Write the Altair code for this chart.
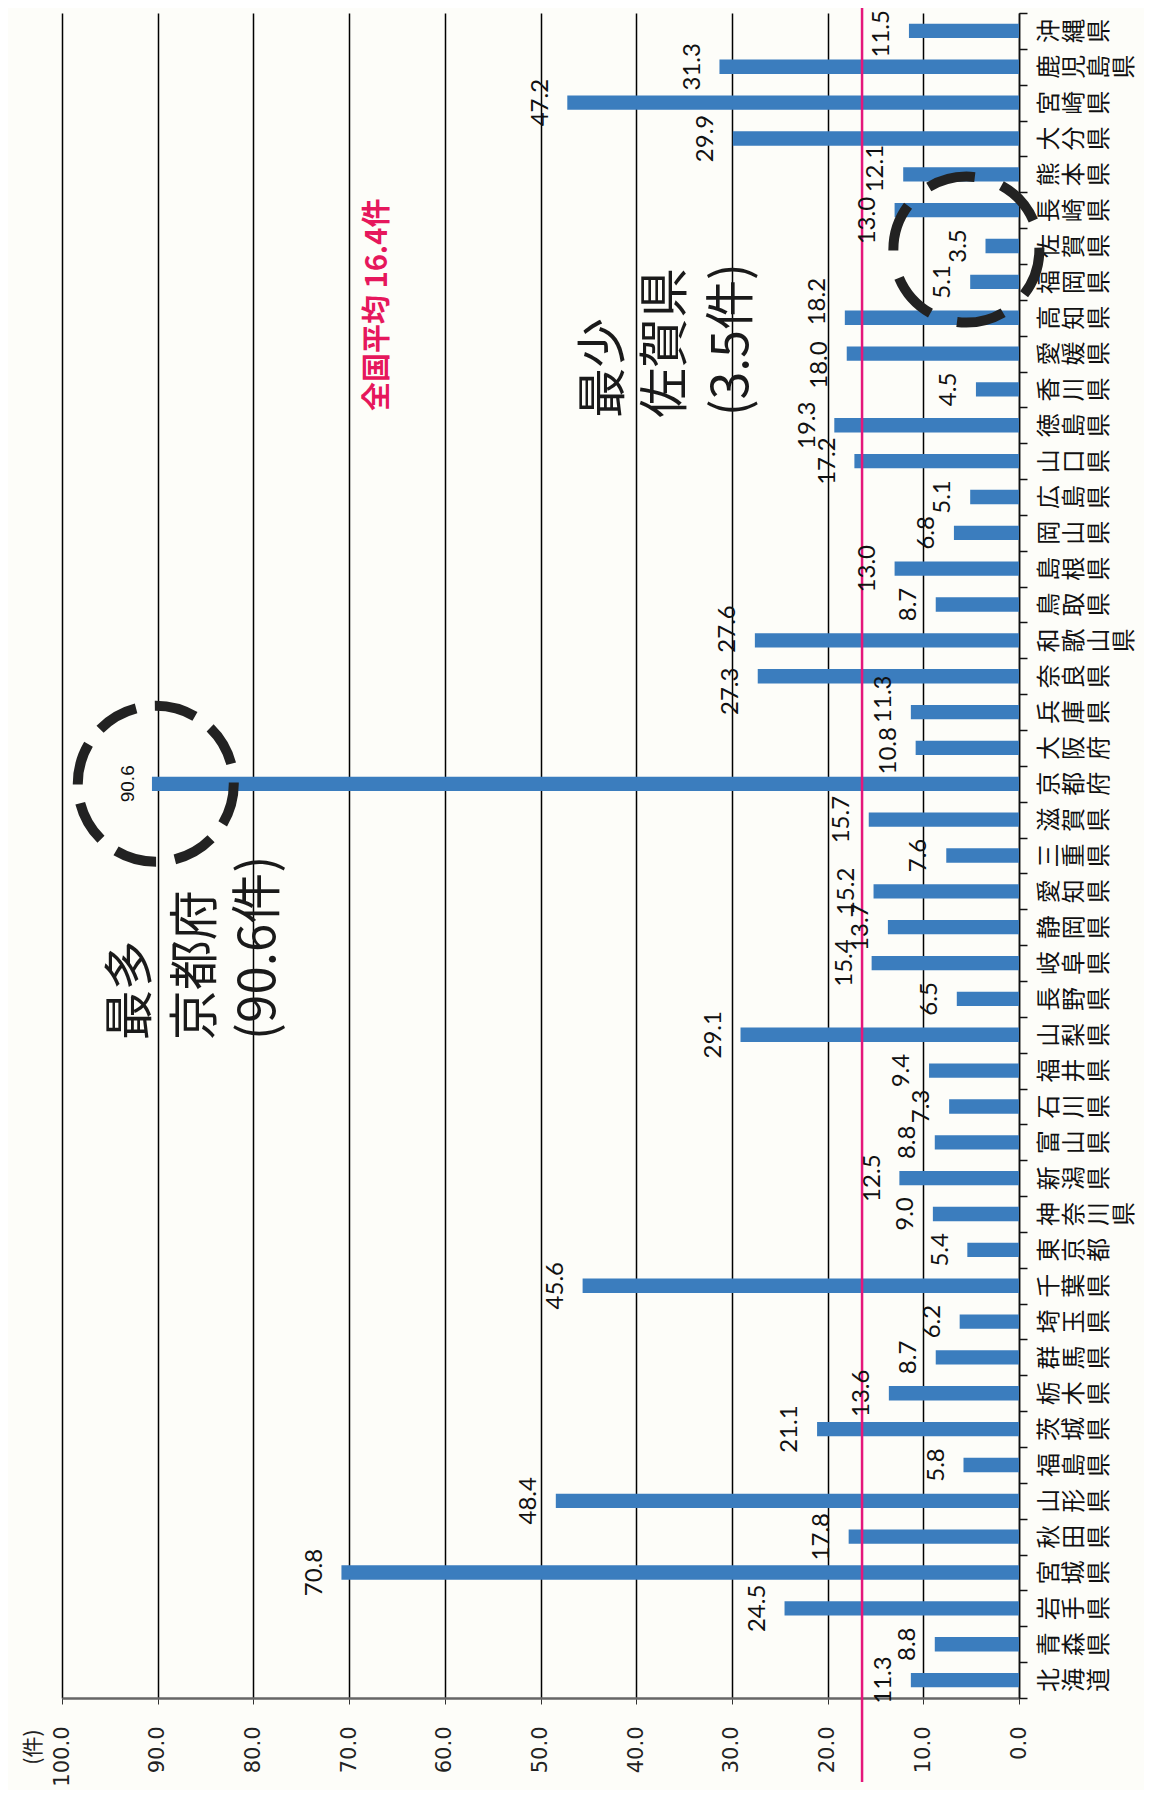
import altair as alt
import pandas as pd

prefectures = ["北海道", "青森県", "岩手県", "宮城県", "秋田県", "山形県", "福島県",
               "茨城県", "栃木県", "群馬県", "埼玉県", "千葉県", "東京都", "神奈川県",
               "新潟県", "富山県", "石川県", "福井県", "山梨県", "長野県", "岐阜県",
               "静岡県", "愛知県", "三重県", "滋賀県", "京都府", "大阪府", "兵庫県",
               "奈良県", "和歌山県", "鳥取県", "島根県", "岡山県", "広島県", "山口県",
               "徳島県", "香川県", "愛媛県", "高知県", "福岡県", "佐賀県", "長崎県",
               "熊本県", "大分県", "宮崎県", "鹿児島県", "沖縄県"]
values = [11.3, 8.8, 24.5, 70.8, 17.8, 48.4, 5.8,
          21.1, 13.6, 8.7, 6.2, 45.6, 5.4, 9.0,
          12.5, 8.8, 7.3, 9.4, 29.1, 6.5, 15.4,
          13.7, 15.2, 7.6, 15.7, 90.6, 10.8, 11.3,
          27.3, 27.6, 8.7, 13.0, 6.8, 5.1, 17.2,
          19.3, 4.5, 18.0, 18.2, 5.1, 3.5, 13.0,
          12.1, 29.9, 47.2, 31.3, 11.5]
national_avg = 16.4
tick_values = list(range(0, 101, 10))

# small shifts of crowded value labels (in category steps, + = upward)
label_nudge = {"大阪府": -0.08, "兵庫県": 0.36, "奈良県": -0.42, "和歌山県": 0.32,
               "愛媛県": -0.32, "高知県": 0.45, "長崎県": -0.29, "熊本県": 0.16,
               "沖縄県": -0.08}

ann_text = ["最多", "京都府", "(90.6件)", "最少", "佐賀県", "(3.5件)"]
ann_x = [92.7, 85.9, 79.3, 43.3, 36.8, 29.9]
ann_y = [17.85, 17.85, 17.85, 35.2, 35.2, 35.25]
ann_size = [50, 50, 51, 50, 50, 50]

avg_text = ["全国平均 16.4件"]
avg_x = [67.0]
avg_y = [35.4]

circle_x = [90.2, 5.5]
circle_y = [25.0, 39.9]

BAR = "#3B7DBE"
PINK = "#E5177B"
RED = "#E6175C"
INK = "#1a1a1a"
W, H = 957, 1685

df = pd.DataFrame({"pref": prefectures, "v": values, "i": list(range(len(values)))})
df["lab"] = df["pref"].apply(lambda s: "\n".join(list(s)))
df["ny"] = df["i"] + df["pref"].map(label_nudge).fillna(0.0)

xs = alt.Scale(domain=[0, 100], reverse=True, nice=False, zero=False)
ys = alt.Scale(domain=[-0.5, len(values) - 0.5], nice=False, zero=False)

xa = alt.Axis(title="(件)", values=tick_values, format=".1f", labelAngle=270,
              labelFont="DejaVu Sans", labelFontSize=21, labelColor="#222",
              labelPadding=22, labelFlush=False, labelOverlap=False,
              tickSize=6, tickColor="#333", domainColor="#666", domainWidth=2.5,
              grid=True, gridColor="#000", gridWidth=1.5,
              titleAngle=270, titleAlign="right", titleBaseline="middle",
              titleX=-29, titleY=31, titleFont="Noto Sans CJK JP",
              titleFontSize=21, titleFontWeight="normal", titleColor="#222")
ya = alt.Axis(orient="right", title="", labels=False,
              values=[k - 0.5 for k in range(len(values) + 1)],
              tickSize=8, tickColor="#111", tickWidth=1.5,
              domainColor="#111", domainWidth=1.5, grid=False)

base = alt.Chart(df)

bars = base.transform_calculate(
    lo="datum.i - 0.2", hi="datum.i + 0.2", z="0"
).mark_rect(color=BAR).encode(
    x=alt.X("z:Q", scale=xs, axis=xa),
    x2="v:Q",
    y=alt.Y("lo:Q", scale=ys, axis=ya),
    y2="hi:Q",
)

rule = alt.Chart(pd.DataFrame({"a": [national_avg]})).mark_rule(
    color=PINK, strokeWidth=2.5
).encode(
    x=alt.X("a:Q", scale=xs, axis=xa),
    y=alt.value(-12),
    y2=alt.value(H + 84),
)

vlab = base.transform_filter("datum.v < 90").transform_calculate(
    lx="datum.v + 2.8"
).mark_text(angle=270, align="center", baseline="middle", font="Lato",
            fontSize=24, color="#111").encode(
    x=alt.X("lx:Q", scale=xs, axis=xa),
    y=alt.Y("ny:Q", scale=ys, axis=ya),
    text=alt.Text("v:Q", format=".1f"),
)

klab = base.transform_filter("datum.v >= 90").transform_calculate(
    lx="datum.v + 2.5"
).mark_text(angle=270, align="center", baseline="middle", font="Liberation Sans",
            fontSize=19, color="#111").encode(
    x=alt.X("lx:Q", scale=xs, axis=xa),
    y=alt.Y("ny:Q", scale=ys, axis=ya),
    text=alt.Text("v:Q", format=".1f"),
)

clab = base.mark_text(angle=270, align="center", baseline="top", lineBreak="\n",
                      font="Noto Sans CJK JP", fontSize=24, lineHeight=25,
                      color="#111").encode(
    x=alt.value(W + 19),
    y=alt.Y("i:Q", scale=ys, axis=ya),
    text="lab:N",
)

ann_df = pd.DataFrame({"t": ann_text, "x": ann_x, "y": ann_y, "s": ann_size})
ann = alt.Chart(ann_df).mark_text(angle=270, align="left", baseline="middle",
                                  font="Noto Sans CJK JP", color=INK).encode(
    x=alt.X("x:Q", scale=xs, axis=xa),
    y=alt.Y("y:Q", scale=ys, axis=ya),
    text="t:N",
    size=alt.Size("s:Q", scale=None, legend=None),
)

avg_df = pd.DataFrame({"t": avg_text, "x": avg_x, "y": avg_y})
avgt = alt.Chart(avg_df).mark_text(angle=270, align="left", baseline="middle",
                                   font="Noto Sans CJK JP", fontSize=29,
                                   fontWeight="bold", color=RED).encode(
    x=alt.X("x:Q", scale=xs, axis=xa),
    y=alt.Y("y:Q", scale=ys, axis=ya),
    text="t:N",
)

c1 = alt.Chart(pd.DataFrame({"x": circle_x[:1], "y": circle_y[:1]})).mark_point(
    shape="circle", filled=False, size=24336, strokeWidth=10,
    strokeDash=[42, 19], color="#222", opacity=1
).encode(x=alt.X("x:Q", scale=xs, axis=xa), y=alt.Y("y:Q", scale=ys, axis=ya))

c2 = alt.Chart(pd.DataFrame({"x": circle_x[1:], "y": circle_y[1:]})).mark_point(
    shape="circle", filled=False, size=21316, strokeWidth=10,
    strokeDash=[48, 28], color="#222", opacity=1
).encode(x=alt.X("x:Q", scale=xs, axis=xa), y=alt.Y("y:Q", scale=ys, axis=ya))

chart = alt.layer(bars, rule, vlab, klab, clab, ann, avgt, c1, c2).properties(
    width=W, height=H,
    padding={"left": 54, "top": 5, "right": 125, "bottom": 92},
    autosize=alt.AutoSizeParams(type="none"),
    background="#FDFDF9",
).configure_view(stroke=None)

chart.save("out.html", embed_options={"renderer": "svg", "actions": False})
